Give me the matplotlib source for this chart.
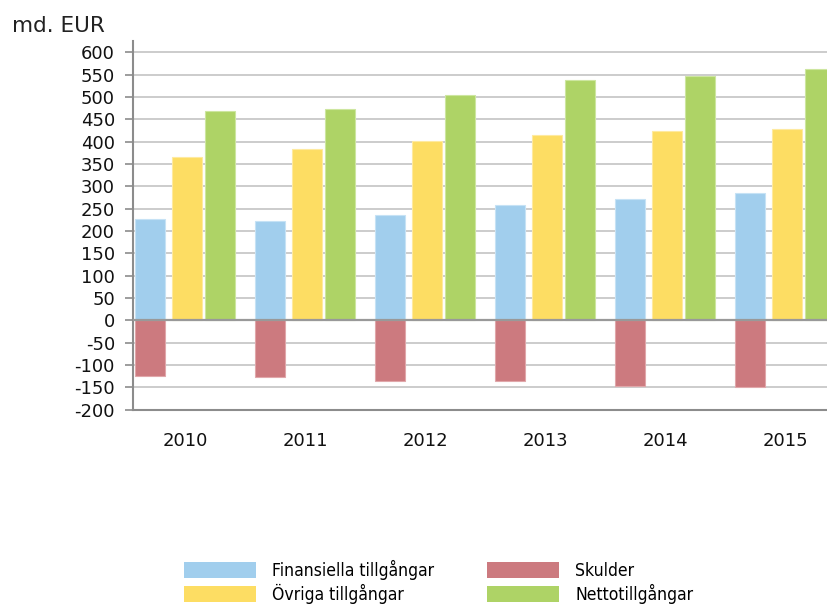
import matplotlib
matplotlib.use('Agg')
import matplotlib.pyplot as plt
import matplotlib.patches as patches
import numpy as np

# Data (md. EUR)
years = ['2010', '2011', '2012', '2013', '2014', '2015']
finansiella = [226, 222, 235, 258, 271, 284]
skulder = [-124, -128, -137, -137, -147, -150]
ovriga = [366, 383, 401, 415, 424, 428]
netto = [469, 473, 505, 537, 547, 562]

labels = ['Finansiella tillgångar', 'Övriga tillgångar', 'Skulder', 'Nettotillgångar']
c_blue = '#a1ceed'
c_yellow = '#fddd63'
c_red = '#cc7a7f'
c_green = '#aed366'

fig = plt.figure(figsize=(8.27, 6.06), dpi=100)
ax = fig.add_axes([133 / 827, 1 - 409.5 / 606, 1 - 133 / 827, (409.5 - 40.7) / 606])

x = np.arange(len(years))
w = 0.25
ax.bar(x - 0.29, finansiella, w, color=c_blue, edgecolor='#c6e2f5', linewidth=0.8, zorder=3)
ax.bar(x - 0.29, skulder, w, color=c_red, edgecolor='#e0a7aa', linewidth=0.8, zorder=3)
ax.bar(x + 0.015, ovriga, w, color=c_yellow, edgecolor='#feeaa0', linewidth=0.8, zorder=3)
ax.bar(x + 0.29, netto, w, color=c_green, edgecolor='#cde6a0', linewidth=0.8, zorder=3)

ax.set_xlim(-0.433, 5.35)
ax.set_ylim(-200, 626)
yt = np.arange(-200, 601, 50)
ax.set_yticks(yt)
ax.set_yticklabels([str(v) for v in yt])
for v in yt:
    if v == 0:
        ax.axhline(v, color='#999999', linewidth=1.6, zorder=4)
    else:
        ax.axhline(v, color='#cccccc', linewidth=1.4, zorder=1)

ax.set_xticks(x)
ax.set_xticklabels(years)
ax.tick_params(axis='y', length=6, width=1.2, color='#8c8c8c', labelsize=13, pad=7,
               labelcolor='#111111')
ax.tick_params(axis='x', length=0, labelsize=13, pad=16, labelcolor='#111111')

for s in ['top', 'right']:
    ax.spines[s].set_visible(False)
for s in ['left', 'bottom']:
    ax.spines[s].set_color('#8c8c8c')
    ax.spines[s].set_linewidth(1.5)

fig.text(12 / 827, 1 - 32 / 606, 'md. EUR', fontsize=15.5, color='#222222')

handles = [patches.Patch(facecolor=c, edgecolor='none') for c in [c_blue, c_yellow, c_red, c_green]]
leg = fig.legend(handles, labels, ncol=2, loc='upper left',
                 bbox_to_anchor=(184 / 827, 1 - 560 / 606), frameon=False,
                 prop={'family': 'DejaVu Sans', 'stretch': 'condensed', 'size': 12.6},
                 handlelength=4.1, handleheight=1.09, handletextpad=0.95,
                 labelspacing=0.22, columnspacing=3.0, borderpad=0, borderaxespad=0)

fig.savefig('out.png', dpi=100)
